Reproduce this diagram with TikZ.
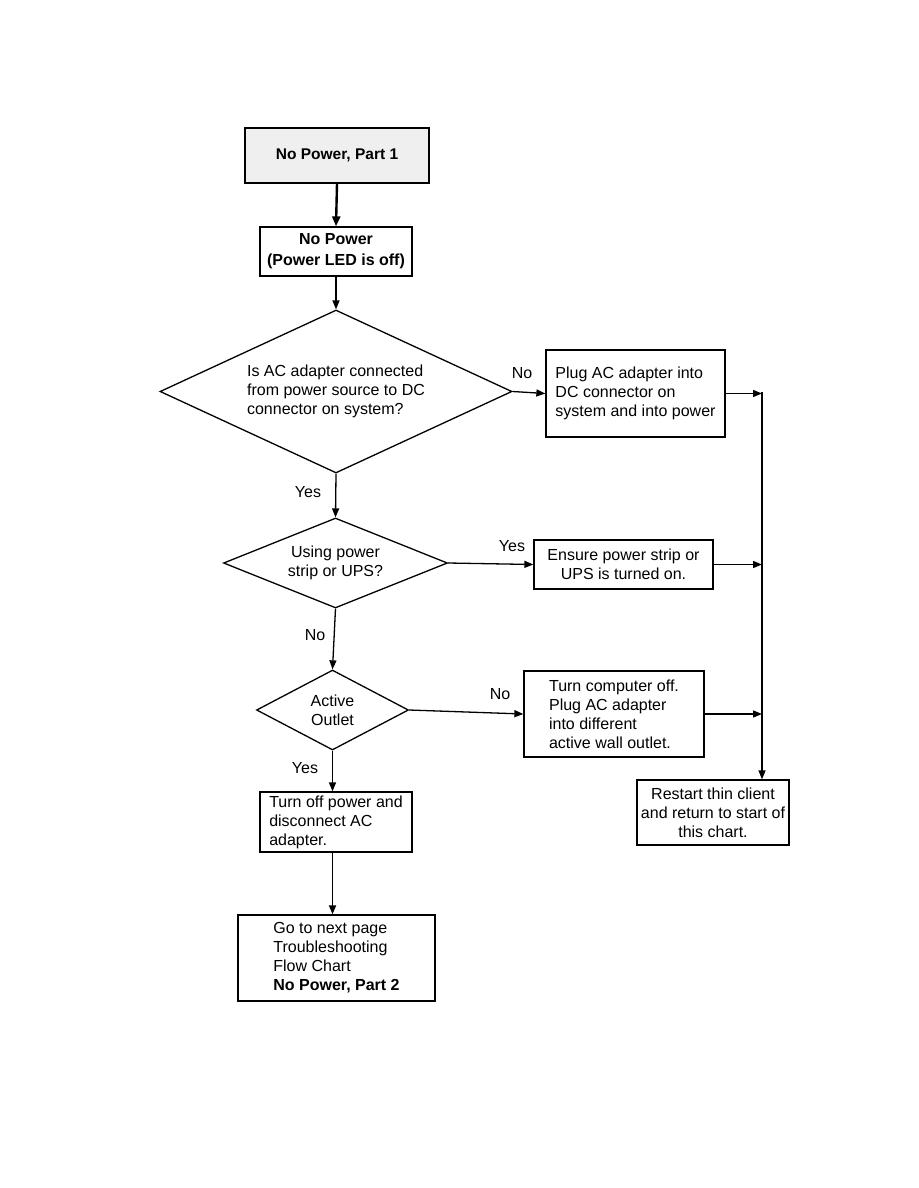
\documentclass[tikz,border=0pt]{standalone}
\usepackage{fontspec}
\setmainfont{Liberation Sans}
\usetikzlibrary{shapes.geometric,arrows.meta}
\definecolor{boxgray}{HTML}{EFEFEF}
\begin{document}
\begin{tikzpicture}[x=1pt,y=-1pt,
  every node/.style={font=\fontsize{16}{19}\selectfont},
  box/.style={draw, line width=1.3pt, rectangle, inner sep=0pt},
  dia/.style={draw, line width=1.3pt, diamond, inner sep=0pt, align=center},
  arr/.style={line width=1.3pt, -{Triangle[length=9pt,width=7pt]}},
  lbl/.style={inner sep=0pt}]
\path[use as bounding box, fill=white] (0,0) rectangle (918,1188);

\node[box, fill=boxgray, minimum width=184pt, minimum height=55pt, align=center,
  font=\fontsize{15.5}{19}\selectfont\bfseries] (b1) at (337,155.5) {No Power, Part 1};
\node[box, minimum width=152pt, minimum height=49pt, align=center,
  font=\fontsize{16}{21}\selectfont\bfseries] (b2) at (336,251.5) {No Power\\(Power LED is off)};

\node[dia, shape aspect=2.16, minimum width=352pt, minimum height=163pt, align=left] (d1) at (336,391.5)
  {Is AC adapter connected\\from power source to DC\\connector on system?};
\node[box, minimum width=179pt, minimum height=87pt, align=left] (b3) at (635.5,393.5)
  {Plug AC adapter into\\DC connector on\\system and into power};

\node[dia, shape aspect=2.49, minimum width=224pt, minimum height=90pt] (d2) at (335.5,563)
  {Using power\\strip or UPS?};
\node[box, minimum width=179pt, minimum height=49pt, align=center] (b4) at (623.5,564.5)
  {Ensure power strip or\\UPS is turned on.};

\node[dia, shape aspect=1.9, minimum width=152pt, minimum height=80pt] (d3) at (332.5,710)
  {Active\\Outlet};
\node[box, minimum width=180pt, minimum height=86pt, align=left] (b5) at (614,714)
  {Turn computer off.\\Plug AC adapter\\into different\\active wall outlet.};

\node[box, minimum width=152pt, minimum height=65pt, align=center] (b6) at (713,812.5)
  {Restart thin client\\and return to start of\\this chart.};
\node[box, minimum width=152pt, minimum height=60pt, align=left] (b7) at (336,822)
  {Turn off power and\\disconnect AC\\adapter.};
\node[box, minimum width=197pt, minimum height=86pt, align=left] (b8) at (336.5,958)
  {Go to next page\\Troubleshooting\\Flow Chart\\\textbf{No Power, Part 2}};

\coordinate (rail) at (762,392);

% labels
\node[lbl] (l1) at (522,373) {No};
\node[lbl] (l2) at (308,492) {Yes};
\node[lbl] (l3) at (512,546) {Yes};
\node[lbl] (l4) at (315,635) {No};
\node[lbl] (l5) at (500,694) {No};
\node[lbl] (l6) at (305,768) {Yes};

% connectors
\draw[line width=2.4pt, -{Triangle[length=10pt,width=8pt]}] (b1.south) -- (b2.north);
\draw[arr] (b2.south) -- (d1.north);
\draw[arr] (d1.east) -- (b3.west);
\draw[arr] (b3.east) -- (b3.east -| rail);
\draw[arr] (d1.south) -- (d2.north);
\draw[arr] (d2.east) -- (b4.west);
\draw[arr] (b4.east) -- (b4.east -| rail);
\draw[arr] (d2.south) -- (d3.north);
\draw[arr] (d3.east) -- (b5.west);
\draw[arr] (b5.east) -- (b5.east -| rail);
\draw[arr] (rail) -- (rail |- b6.north);
\draw[arr] (d3.south) -- (d3.south |- b7.north);
\draw[line width=1.8pt, -{Triangle[length=9pt,width=7pt]}] (d3.south |- b7.south) -- (d3.south |- b8.north);
\end{tikzpicture}
\end{document}
